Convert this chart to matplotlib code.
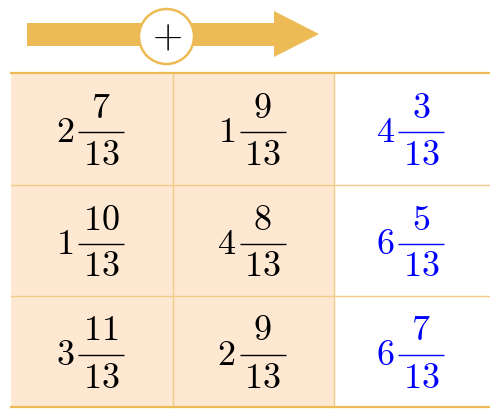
import matplotlib.pyplot as plt
from matplotlib.patches import Rectangle, Circle, Polygon

plt.rcParams['mathtext.fontset'] = 'cm'

# mixed numbers: (whole, numerator, denominator)
col_a = [(2, 7, 13), (1, 10, 13), (3, 11, 13)]
col_b = [(1, 9, 13), (4, 8, 13), (2, 9, 13)]
col_sum = [(4, 3, 13), (6, 5, 13), (6, 7, 13)]

orange = '#EDBB55'
light_orange = '#F2CC86'
peach = '#FEE8D2'

W, H = 490, 409
fig = plt.figure(figsize=(W / 100, H / 100), dpi=100)
ax = fig.add_axes([0, 0, 1, 1])
ax.set_xlim(0, W)
ax.set_ylim(H, 0)
ax.axis('off')

# table geometry (pixels)
x_edges = [11, 173, 334, 490]
y_edges = [73, 185, 296, 407]

for c in range(2):
    ax.add_patch(Rectangle((x_edges[c], y_edges[0]), x_edges[c + 1] - x_edges[c],
                           y_edges[-1] - y_edges[0], fc=peach, ec='none', zorder=0))

for y in y_edges[1:-1]:
    ax.plot([x_edges[0], x_edges[-1]], [y, y], color=light_orange, lw=1, zorder=1)
for x in x_edges[1:-1]:
    ax.plot([x, x], [y_edges[0], y_edges[-1]], color=light_orange, lw=1, zorder=1)
for y in (y_edges[0], y_edges[-1]):
    ax.plot([x_edges[0], x_edges[-1]], [y, y], color=orange, lw=1.6, zorder=2)


def mixed(cx, cy, w, n, d, color):
    fs = 26
    ax.text(cx - 27, cy + 3.5, r'$%d$' % w, ha='center', va='center', fontsize=fs, color=color)
    ax.plot([cx - 14, cx + 32], [cy + 3, cy + 3], color=color, lw=1.0, solid_capstyle='butt')
    ax.text(cx + 9, cy - 21, r'$%d$' % n, ha='center', va='center', fontsize=fs, color=color)
    ax.text(cx + 9, cy + 26, r'$%d$' % d, ha='center', va='center', fontsize=fs, color=color)


columns = [col_a, col_b, col_sum]
colors = ['black', 'black', '#0000FF']
for c, col in enumerate(columns):
    cx = (x_edges[c] + x_edges[c + 1]) / 2
    for r, (w, n, d) in enumerate(col):
        cy = (y_edges[r] + y_edges[r + 1]) / 2
        mixed(cx, cy, w, n, d, colors[c])

# arrow with plus sign
ax.add_patch(Polygon([(27, 23), (274, 23), (274, 11), (319, 34), (274, 57), (274, 46), (27, 46)],
                     closed=True, fc=orange, ec='none', zorder=3))
ax.add_patch(Circle((166.5, 36.5), 27.5, fc='white', ec=orange, lw=1.8, zorder=4))
ax.text(166.5, 37, r'$+$', ha='center', va='center', fontsize=28, color='black', zorder=5)

fig.savefig('out.png', dpi=100)
